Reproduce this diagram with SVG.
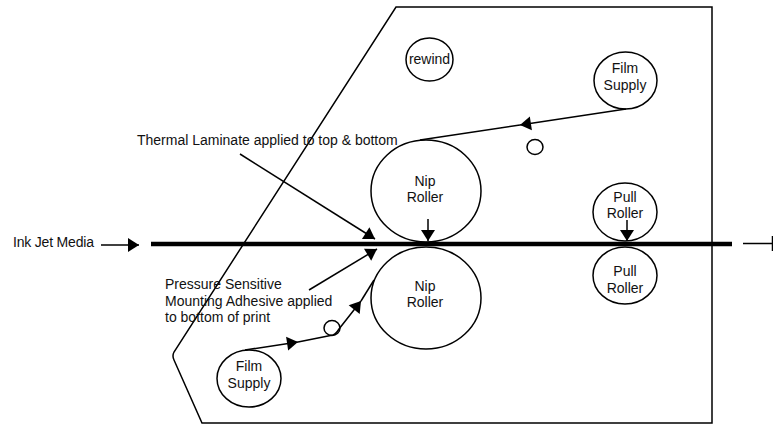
<svg xmlns="http://www.w3.org/2000/svg" width="773" height="424" viewBox="0 0 773 424">
<style>
text{font-family:"Liberation Sans",Arial,sans-serif;font-size:14px;fill:#111}
.c{text-anchor:middle}
.n{fill:#fff;stroke:#000;stroke-width:1.5}
.l{fill:none;stroke:#000;stroke-width:1.5}
</style>
<defs>
<marker id="a" markerUnits="userSpaceOnUse" markerWidth="14" markerHeight="16" refX="12" refY="8" orient="auto"><path d="M1,1 L12,8 L1,15 Z" fill="#000"/></marker>
</defs>
<rect width="773" height="424" fill="#fff"/>
<g id="housing"><path class="l" d="M396,7 H712 V423 H202 L174,360 Q172,356 174,352 Z"/></g>
<g id="nip-top"><ellipse class="n" cx="426" cy="191" rx="55" ry="51"/><text class="c" x="425" y="186">Nip</text><text class="c" x="425" y="202">Roller</text></g>
<g id="nip-bottom"><ellipse class="n" cx="426" cy="298" rx="55" ry="51"/><text class="c" x="425" y="291">Nip</text><text class="c" x="425" y="307">Roller</text></g>
<g id="pull-top"><ellipse class="n" cx="625" cy="212" rx="32" ry="29"/><text class="c" x="625" y="202">Pull</text><text class="c" x="625" y="218">Roller</text></g>
<g id="pull-bottom"><ellipse class="n" cx="625" cy="275.500" rx="32" ry="28.500"/><text class="c" x="625" y="276">Pull</text><text class="c" x="625" y="293">Roller</text></g>
<g id="rewind"><ellipse class="n" cx="429.500" cy="59.500" rx="23.500" ry="21.500"/><text class="c" x="429.500" y="64">rewind</text></g>
<g id="film-top"><ellipse class="n" cx="625.500" cy="80.500" rx="31.500" ry="28.500"/><text class="c" x="625" y="73">Film</text><text class="c" x="625" y="90">Supply</text></g>
<g id="film-bottom"><ellipse class="n" cx="249" cy="378.500" rx="32" ry="28.500"/><text class="c" x="249" y="371">Film</text><text class="c" x="249" y="388">Supply</text></g>
<g id="idler-top"><ellipse class="n" cx="535" cy="147" rx="8" ry="7.500"/></g>
<g id="idler-bottom"><ellipse class="n" cx="332" cy="328" rx="8" ry="7.500"/></g>
<g id="connectors">
<path d="M151,244 H732" fill="none" stroke="#000" stroke-width="4.500"/>
<path class="l" d="M101,245 H139" marker-end="url(#a)"/>
<path class="l" d="M743,243.500 H773 M772.500,236 V251"/>
<path class="l" d="M626,109 L520,125" marker-end="url(#a)"/>
<path class="l" d="M520,125 L420,140"/>
<path class="l" d="M245,350 L298,342" marker-end="url(#a)"/>
<path class="l" d="M298,342 L333,335 Q336,334 339,329 L361,301" marker-end="url(#a)"/>
<path class="l" d="M361,301 L374,280"/>
<path class="l" d="M240,154 L375,239" marker-end="url(#a)"/>
<path class="l" d="M309,290 L377,249" marker-end="url(#a)"/>
<path class="l" d="M428,219 V241" marker-end="url(#a)"/>
<path class="l" d="M627,220 V241" marker-end="url(#a)"/>
</g>
<g id="labels">
<text x="137" y="145">Thermal Laminate applied to top &amp; bottom</text>
<text x="165" y="289">Pressure Sensitive</text>
<text x="165" y="306">Mounting Adhesive applied</text>
<text x="165" y="322">to bottom of print</text>
<text x="13" y="247" textLength="81">Ink Jet Media</text>
</g>
</svg>
